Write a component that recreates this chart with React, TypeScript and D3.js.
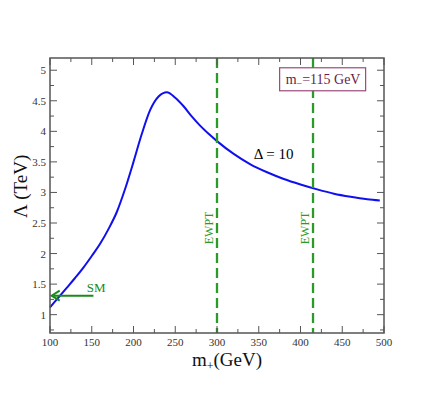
import React, { useEffect, useRef } from 'react';
import * as d3 from 'd3';

// Lambda (TeV) vs m+ (GeV) for Delta = 10
const massPlus = [100, 110, 120, 130, 140, 150, 160, 170, 180, 190, 200, 210, 220, 230, 240, 250, 260, 270, 280, 290, 300, 320, 340, 360, 380, 400, 420, 440, 460, 480, 495];
const lambdaTeV = [1.12, 1.28, 1.44, 1.6, 1.77, 1.96, 2.16, 2.4, 2.68, 3.06, 3.5, 3.96, 4.35, 4.57, 4.64, 4.55, 4.41, 4.24, 4.09, 3.96, 3.84, 3.63, 3.46, 3.33, 3.22, 3.13, 3.05, 2.98, 2.93, 2.89, 2.87];

const ewptLines = [300, 415];
const smArrow = { from: 152, to: 102, value: 1.31 };

const xTicks = [100, 150, 200, 250, 300, 350, 400, 450, 500];
const yTicks = [1, 1.5, 2, 2.5, 3, 3.5, 4, 4.5, 5];

const App = () => {
  const svgRef = useRef<SVGSVGElement>(null);

  useEffect(() => {
    const svg = d3.select(svgRef.current);
    const width = 432;
    const height = 393;
    const margin = { top: 58, right: 48, bottom: 60, left: 50 };
    const innerWidth = width - margin.left - margin.right;
    const innerHeight = height - margin.top - margin.bottom;
    const serif = '"Liberation Serif", "Times New Roman", serif';
    const axisColor = '#555';
    const green = '#2a9a2a';

    const x = d3.scaleLinear().domain([100, 500]).range([0, innerWidth]);
    const y = d3.scaleLinear().domain([0.7, 5.2]).range([innerHeight, 0]);

    const g = svg.append('g').attr('transform', `translate(${margin.left},${margin.top})`);

    // curve
    const line = d3
      .line<number>()
      .x((d, i) => x(massPlus[i]))
      .y((d) => y(d))
      .curve(d3.curveMonotoneX);

    g.append('path')
      .datum(lambdaTeV)
      .attr('d', line)
      .attr('fill', 'none')
      .attr('stroke', '#1010ee')
      .attr('stroke-width', 2);

    // EWPT dashed lines
    g.selectAll('line.ewpt')
      .data(ewptLines)
      .enter()
      .append('line')
      .attr('class', 'ewpt')
      .attr('x1', (d) => x(d))
      .attr('x2', (d) => x(d))
      .attr('y1', 0)
      .attr('y2', innerHeight)
      .attr('stroke', green)
      .attr('stroke-width', 2.3)
      .attr('stroke-dasharray', '10,5');

    g.selectAll('text.ewpt')
      .data(ewptLines)
      .enter()
      .append('text')
      .attr('class', 'ewpt')
      .attr('transform', (d) => `translate(${x(d) - 4},${y(2.42)}) rotate(-90)`)
      .attr('text-anchor', 'middle')
      .attr('font-family', serif)
      .attr('font-size', 12)
      .attr('fill', green)
      .text('EWPT');

    // SM arrow
    g.append('line')
      .attr('x1', x(smArrow.from))
      .attr('x2', x(smArrow.to) + 2)
      .attr('y1', y(smArrow.value))
      .attr('y2', y(smArrow.value))
      .attr('stroke', '#1a8a1a')
      .attr('stroke-width', 2);
    const ax = x(smArrow.to);
    const ay = y(smArrow.value);
    g.append('path')
      .attr('d', `M${ax + 8},${ay - 5} L${ax},${ay} L${ax + 8},${ay + 5}`)
      .attr('fill', 'none')
      .attr('stroke', '#1a8a1a')
      .attr('stroke-width', 2);
    g.append('text')
      .attr('x', x(144))
      .attr('y', y(smArrow.value) - 4)
      .attr('font-family', serif)
      .attr('font-size', 13)
      .attr('fill', '#1a8a1a')
      .text('SM');

    // Delta label
    g.append('text')
      .attr('x', x(344))
      .attr('y', y(3.55))
      .attr('font-family', serif)
      .attr('font-size', 15)
      .attr('fill', '#000')
      .text('Δ = 10');

    // legend box
    const box = g.append('g').attr('transform', `translate(${x(375)},${y(5.04)})`);
    box.append('rect')
      .attr('width', 86)
      .attr('height', 23)
      .attr('fill', '#fff')
      .attr('stroke', '#9a4a7a')
      .attr('stroke-width', 1.2);
    const bt = box.append('text')
      .attr('x', 6)
      .attr('y', 16.5)
      .attr('font-family', serif)
      .attr('font-size', 14)
      .attr('fill', '#6a1a4a');
    bt.append('tspan').text('m');
    bt.append('tspan').attr('dy', 3).attr('font-size', 10).text('−');
    bt.append('tspan').attr('dy', -3).text('=115 GeV');

    // frame
    g.append('rect')
      .attr('width', innerWidth)
      .attr('height', innerHeight)
      .attr('fill', 'none')
      .attr('stroke', axisColor)
      .attr('stroke-width', 1.5);

    // ticks inward, on all sides
    const xMinor = d3.range(125, 500, 50);
    const yMinor = d3.range(0.75, 5.2, 0.5);
    [
      { vals: xTicks, len: 7 },
      { vals: xMinor, len: 4 },
    ].forEach(({ vals, len }) => {
      vals.forEach((v) => {
        g.append('line').attr('x1', x(v)).attr('x2', x(v)).attr('y1', innerHeight).attr('y2', innerHeight - len)
          .attr('stroke', axisColor).attr('stroke-width', 1);
        g.append('line').attr('x1', x(v)).attr('x2', x(v)).attr('y1', 0).attr('y2', len)
          .attr('stroke', axisColor).attr('stroke-width', 1);
      });
    });
    [
      { vals: yTicks, len: 7 },
      { vals: yMinor, len: 4 },
    ].forEach(({ vals, len }) => {
      vals.forEach((v) => {
        g.append('line').attr('y1', y(v)).attr('y2', y(v)).attr('x1', 0).attr('x2', len)
          .attr('stroke', axisColor).attr('stroke-width', 1);
        g.append('line').attr('y1', y(v)).attr('y2', y(v)).attr('x1', innerWidth).attr('x2', innerWidth - len)
          .attr('stroke', axisColor).attr('stroke-width', 1);
      });
    });

    // tick labels
    g.selectAll('text.xt')
      .data(xTicks)
      .enter()
      .append('text')
      .attr('class', 'xt')
      .attr('x', (d) => x(d))
      .attr('y', innerHeight + 13)
      .attr('text-anchor', 'middle')
      .attr('font-family', serif)
      .attr('font-size', 11)
      .attr('fill', '#333')
      .text((d) => d);

    g.selectAll('text.yt')
      .data(yTicks)
      .enter()
      .append('text')
      .attr('class', 'yt')
      .attr('x', -4)
      .attr('y', (d) => y(d) + 4)
      .attr('text-anchor', 'end')
      .attr('font-family', serif)
      .attr('font-size', 11)
      .attr('fill', '#333')
      .text((d) => d);

    // axis titles
    const xt = g.append('text')
      .attr('x', x(312))
      .attr('y', innerHeight + 33)
      .attr('text-anchor', 'middle')
      .attr('font-family', serif)
      .attr('font-size', 19)
      .attr('fill', '#111');
    xt.append('tspan').text('m');
    xt.append('tspan').attr('dy', 4).attr('font-size', 12).text('+');
    xt.append('tspan').attr('dy', -4).text('(GeV)');

    g.append('text')
      .attr('transform', `translate(-23,${y(3.1)}) rotate(-90)`)
      .attr('text-anchor', 'middle')
      .attr('font-family', serif)
      .attr('font-size', 19)
      .attr('fill', '#111')
      .text('Λ (TeV)');

    return () => {
      svg.selectAll('*').remove();
    };
  }, []);

  return (
    <svg
      ref={svgRef}
      width={432}
      height={393}
      style={{ position: 'absolute', left: 0, top: 0, background: '#fff' }}
    ></svg>
  );
};

export default App;
